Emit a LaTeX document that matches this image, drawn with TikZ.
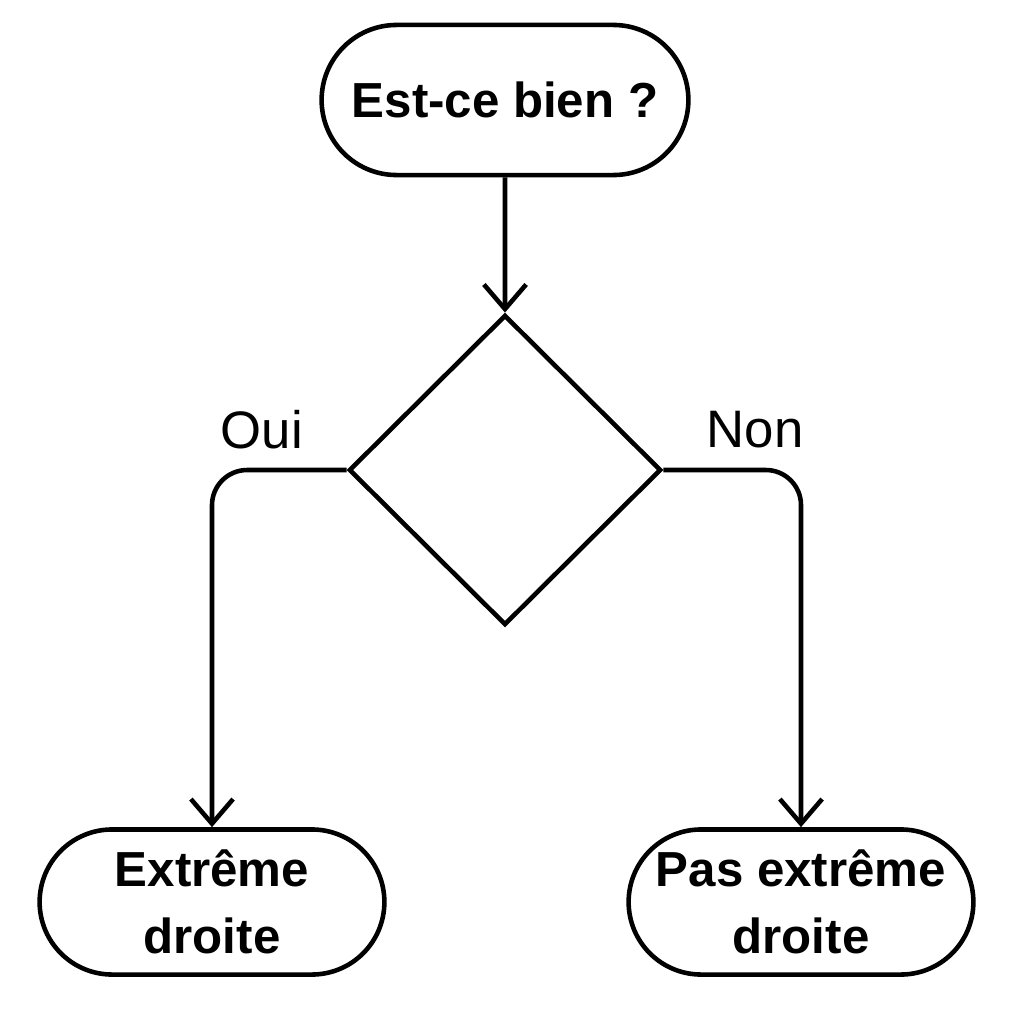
\documentclass[tikz,border=0pt]{standalone}
\usepackage{fontspec}
\setmainfont{Liberation Sans}
\usetikzlibrary{shapes.geometric,shapes.misc,arrows.meta}

\begin{document}
\begin{tikzpicture}[x=0.01cm,y=-0.01cm,line width=1.3pt,
   term/.style={draw,rounded rectangle,minimum width=3.68cm,minimum height=1.45cm,
                font=\fontsize{14}{19}\selectfont\bfseries,align=center},
   test/.style={draw,diamond,minimum width=3.12cm,minimum height=3.1cm,inner sep=0pt},
   flow/.style={-{Straight Barb[length=7pt,width=12pt]},rounded corners=10pt}]
   \useasboundingbox (0,0) rectangle (1008,1018);
   \node[term,minimum width=3.9cm,minimum height=1.5cm] (start) at (505,100) {Est-ce bien ?};
   \node[test] (choice) at (505,470) {};
   \node[term] (yes) at (212,902) {Extrême\\droite};
   \node[term] (no) at (801,902) {Pas extrême\\droite};
   \node[font=\fontsize{15}{18}\selectfont] (oui) at (262,430) {Oui};
   \node[font=\fontsize{15}{18}\selectfont] (non) at (755,430) {Non};
   \draw[flow] (start) -- (choice);
   \draw[flow] (choice.west) -| (yes.north);
   \draw[flow] (choice.east) -| (no.north);
\end{tikzpicture}
\end{document}
